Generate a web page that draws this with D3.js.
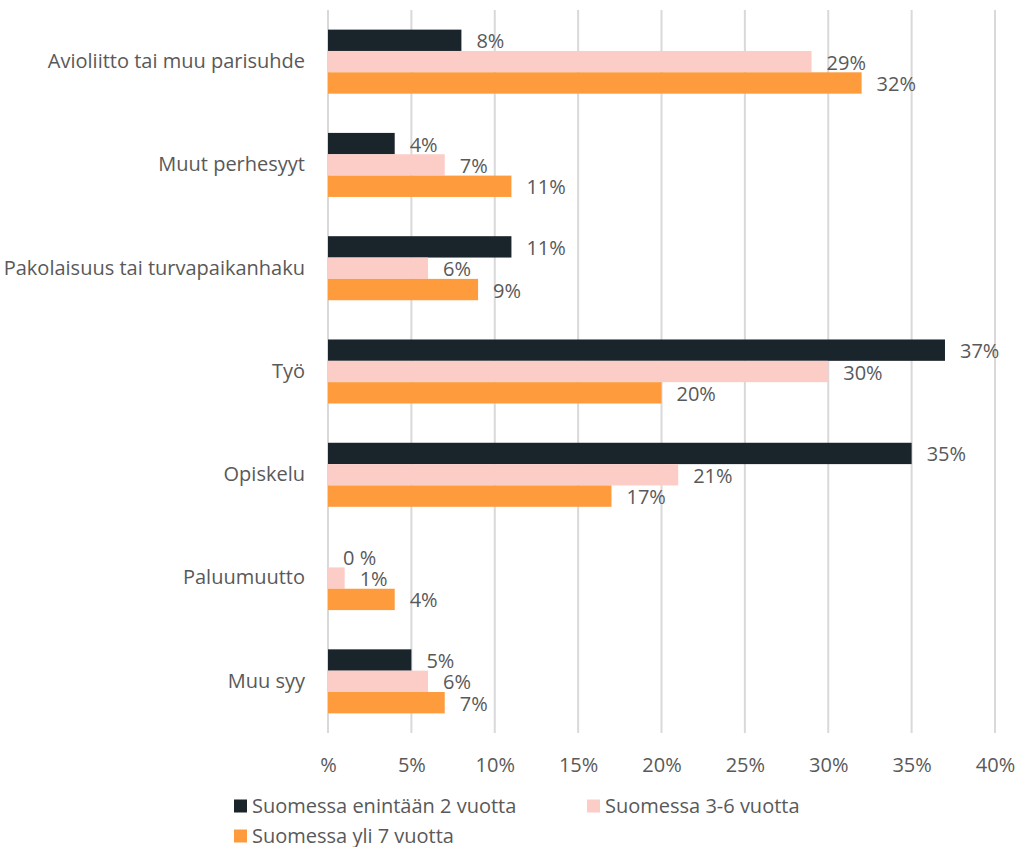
<!DOCTYPE html>
<html>
<head>
<meta charset="utf-8">
<script src="https://cdn.jsdelivr.net/npm/d3@7"></script>
<style>
  html, body { margin: 0; padding: 0; background: #fff; }
  svg { display: block; }
  text { font-family: "Open Sans", "Noto Sans", sans-serif; fill: #595959; }
</style>
</head>
<body>
<svg id="chart" width="1023" height="847"></svg>
<script>
// Reasons for moving to Finland, by time lived in Finland
const categories = [
  "Avioliitto tai muu parisuhde",
  "Muut perhesyyt",
  "Pakolaisuus tai turvapaikanhaku",
  "Työ",
  "Opiskelu",
  "Paluumuutto",
  "Muu syy"
];
const seriesNames = [
  "Suomessa enintään 2 vuotta",
  "Suomessa 3-6 vuotta",
  "Suomessa yli 7 vuotta"
];
const upTo2Years = [8, 4, 11, 37, 35, 0, 5];
const from3to6Years = [29, 7, 6, 30, 21, 1, 6];
const over7Years = [32, 11, 9, 20, 17, 4, 7];
const tickValues = [0, 5, 10, 15, 20, 25, 30, 35, 40];
const tickLabels = ["%", "5%", "10%", "15%", "20%", "25%", "30%", "35%", "40%"];

const seriesValues = [upTo2Years, from3to6Years, over7Years];
const colors = ["#1a242b", "#fccdc7", "#fd9b3d"];
const fontSize = 20;

const svg = d3.select("#chart");

const x = d3.scaleLinear().domain([0, 40]).range([328, 995]);
const y = d3.scaleBand().domain(categories).range([10, 733])
  .paddingInner(0.38).paddingOuter(0.19);
const ySub = d3.scaleBand().domain(d3.range(seriesNames.length)).range([0, y.bandwidth()]);

// Vertical gridlines
svg.append("g")
  .selectAll("line")
  .data(tickValues)
  .join("line")
  .attr("x1", d => x(d)).attr("x2", d => x(d))
  .attr("y1", 10).attr("y2", 733)
  .attr("stroke", "#d9d9d9")
  .attr("stroke-width", 2);

// Tick labels along the bottom
const xAxis = d3.axisBottom(x)
  .tickValues(tickValues)
  .tickFormat((d, i) => tickLabels[i])
  .tickSize(0)
  .tickPadding(0);
const gx = svg.append("g")
  .attr("transform", "translate(0,765)")
  .call(xAxis);
gx.select(".domain").remove();
gx.selectAll("text")
  .attr("font-size", fontSize)
  .attr("font-family", null)
  .attr("fill", "#595959")
  .attr("dy", "0.35em");

// Category labels
const yAxis = d3.axisLeft(y).tickSize(0).tickPadding(0);
const gy = svg.append("g")
  .attr("transform", "translate(305,0)")
  .call(yAxis);
gy.select(".domain").remove();
gy.selectAll("text")
  .attr("font-size", fontSize)
  .attr("font-family", null)
  .attr("fill", "#595959");

// Bars and value labels
const rows = [];
categories.forEach((c, ci) => {
  seriesValues.forEach((vals, si) => {
    rows.push({ category: c, series: si, value: vals[ci] });
  });
});

const groups = svg.append("g");
groups.selectAll("rect")
  .data(rows)
  .join("rect")
  .attr("x", x(0))
  .attr("y", d => y(d.category) + ySub(d.series))
  .attr("width", d => x(d.value) - x(0))
  .attr("height", ySub.bandwidth())
  .attr("fill", d => colors[d.series]);

groups.selectAll("text")
  .data(rows)
  .join("text")
  .attr("x", d => x(d.value) + 15)
  .attr("y", d => y(d.category) + ySub(d.series) + ySub.bandwidth() / 2 + 1)
  .attr("dy", "0.35em")
  .attr("font-size", fontSize)
  .text(d => d.value === 0 ? "0 %" : d.value + "%");

// Legend
const legendItems = [
  { x: 234, y: 806 },
  { x: 587, y: 806 },
  { x: 234, y: 836 }
];
const legend = svg.append("g")
  .selectAll("g")
  .data(seriesNames)
  .join("g")
  .attr("transform", (d, i) => `translate(${legendItems[i].x},${legendItems[i].y})`);
legend.append("rect")
  .attr("x", 0).attr("y", -6.5)
  .attr("width", 13).attr("height", 13)
  .attr("fill", (d, i) => colors[i]);
legend.append("text")
  .attr("x", 18).attr("y", 0)
  .attr("dy", "0.35em")
  .attr("font-size", fontSize)
  .text(d => d);
</script>
</body>
</html>
